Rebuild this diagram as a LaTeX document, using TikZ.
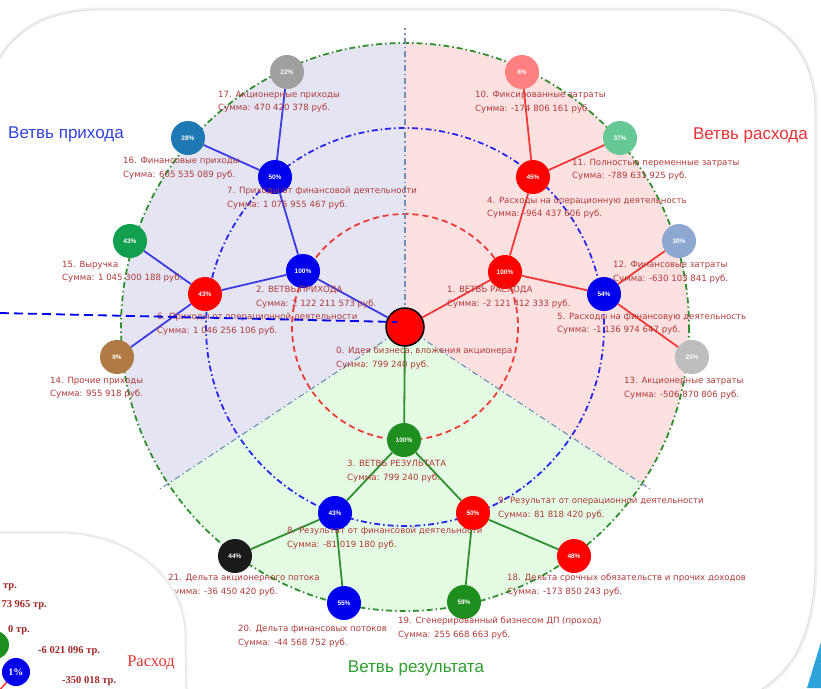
\documentclass[tikz,border=0pt]{standalone}
\usepackage{fontspec}
\setmainfont{Liberation Sans}
\newfontfamily\serifru{Liberation Serif}
\newfontfamily\lblfont{DejaVu Sans}
\definecolor{lav}{HTML}{E4E4F3}
\definecolor{pinkf}{HTML}{FDE1E1}
\definecolor{greenf}{HTML}{E3FAE3}
\definecolor{eblue}{HTML}{3B3BE6}
\definecolor{ered}{HTML}{F03A3A}
\definecolor{egreen}{HTML}{2F8F2F}
\definecolor{lblred}{HTML}{B03A3A}
\definecolor{nblue}{HTML}{0000EE}
\definecolor{nred}{HTML}{FF0000}
\definecolor{ngreen}{HTML}{1E8F1E}
\definecolor{nsalmon}{HTML}{FF8080}
\definecolor{nmint}{HTML}{66C896}
\definecolor{nlsb}{HTML}{8FA8D2}
\definecolor{nlgrey}{HTML}{BDBDBD}
\definecolor{nbrown}{HTML}{B07A45}
\definecolor{ngreen2}{HTML}{12A050}
\definecolor{nsteel}{HTML}{1E78B4}
\definecolor{ngrey}{HTML}{A0A0A0}
\definecolor{nblack}{HTML}{1A1A1A}
\definecolor{axisc}{HTML}{6F8DB5}
\definecolor{tblue}{HTML}{3344DD}
\definecolor{tred}{HTML}{E83333}
\definecolor{tgreen}{HTML}{2E9E2E}
\definecolor{triblue}{HTML}{2EA3DA}
\definecolor{bldark}{HTML}{A02828}
\begin{document}
\begin{tikzpicture}[x=1pt,y=-1pt,
  pn/.style={circle, minimum size=34, inner sep=0, text=white, font=\fontsize{6.5}{7}\selectfont\bfseries},
  lbl/.style={anchor=north west, inner sep=0, align=left, text=lblred, font=\lblfont\fontsize{8.6}{13.5}\selectfont},
  ttl/.style={inner sep=0, font=\fontsize{17}{20}\selectfont},
  eb/.style={draw=eblue, line width=1.8},
  er/.style={draw=ered, line width=1.8},
  eg/.style={draw=egreen, line width=1.8},
  blt/.style={inner sep=0, text=bldark, font=\serifru\bfseries\fontsize{10.5}{12}\selectfont},
  dashdotpat/.style={dash pattern=on 6pt off 3pt on 1.5pt off 3pt}
]
\useasboundingbox (0,0) rectangle (821,688);
\fill[white] (0,0) rectangle (821,688);
% main panel with shadow
\draw[gray!12, line width=5] (-20,700) -- (-20,120) .. controls (-10,45) and (30,10) .. (100,10) -- (715,10) .. controls (775,10) and (815,50) .. (815,110) -- (815,560) .. controls (815,640) and (790,680) .. (740,700);
\draw[fill=white, draw=gray!28, line width=0.8] (-20,700) -- (-20,120) .. controls (-10,45) and (30,10) .. (100,10) -- (715,10) .. controls (775,10) and (815,50) .. (815,110) -- (815,560) .. controls (815,640) and (790,680) .. (740,700) -- cycle;
% sectors
\fill[lav] (405,327) -- plot[domain=146.6:270, samples=90] ({405+284*cos(\x)},{327+284*sin(\x)}) -- cycle;
\fill[pinkf] (405,327) -- plot[domain=-90:33.4, samples=90] ({405+284*cos(\x)},{327+284*sin(\x)}) -- cycle;
\fill[greenf] (405,327) -- plot[domain=33.4:146.6, samples=90] ({405+284*cos(\x)},{327+284*sin(\x)}) -- cycle;
% circles
\draw[egreen, line width=1.8, dashdotpat] (405,327) circle (284);
\draw[nblue!85, line width=1.8, dashdotpat] (405,327) circle (199);
\draw[ered, line width=1.8, dash pattern=on 6pt off 4pt] (405,327) circle (113);
% axes
\coordinate (ctr) at (405,327);
\coordinate (axtop) at (405,28);
\coordinate (axl) at (160,489);
\coordinate (axr) at (650,489);
\draw[axisc, line width=1.1, dashdotpat] (ctr) -- (axtop);
\draw[axisc, line width=1.1, dashdotpat] (ctr) -- (axl);
\draw[axisc, line width=1.1, dashdotpat] (ctr) -- (axr);
% nodes
\node[circle, minimum size=38, inner sep=0, fill=nred, draw=black, line width=1.5] (c0) at (405,327) {};
\node[pn, fill=nred] (n1) at (505,272) {100\%};
\node[pn, fill=nblue] (n2) at (303,271) {100\%};
\node[pn, fill=ngreen] (n3) at (404,440) {100\%};
\node[pn, fill=nred] (n4) at (533,177) {45\%};
\node[pn, fill=nblue] (n5) at (604,294) {54\%};
\node[pn, fill=nred] (n6) at (205,294) {43\%};
\node[pn, fill=nblue] (n7) at (275,177) {50\%};
\node[pn, fill=nblue] (n8) at (335,513) {43\%};
\node[pn, fill=nred] (n9) at (473,513) {50\%};
\node[pn, fill=nsalmon] (n10) at (522,72) {8\%};
\node[pn, fill=nmint] (n11) at (620,138) {37\%};
\node[pn, fill=nlsb] (n12) at (679,241) {30\%};
\node[pn, fill=nlgrey] (n13) at (692,357) {23\%};
\node[pn, fill=nbrown] (n14) at (117,357) {8\%};
\node[pn, fill=ngreen2] (n15) at (130,241) {43\%};
\node[pn, fill=nsteel] (n16) at (188,138) {28\%};
\node[pn, fill=ngrey] (n17) at (287,72) {22\%};
\node[pn, fill=nred] (n18) at (574,556) {48\%};
\node[pn, fill=ngreen] (n19) at (464,602) {59\%};
\node[pn, fill=nblue] (n20) at (344,603) {55\%};
\node[pn, fill=nblack] (n21) at (235,556) {44\%};
% edges
\draw[eb] (c0) -- (n2);
\draw[eb] (n2) -- (n6);
\draw[eb] (n2) -- (n7);
\draw[eb] (n7) -- (n17);
\draw[eb] (n7) -- (n16);
\draw[eb] (n6) -- (n15);
\draw[eb] (n6) -- (n14);
\draw[er] (c0) -- (n1);
\draw[er] (n1) -- (n4);
\draw[er] (n1) -- (n5);
\draw[er] (n4) -- (n10);
\draw[er] (n4) -- (n11);
\draw[er] (n5) -- (n12);
\draw[er] (n5) -- (n13);
\draw[eg] (c0) -- (n3);
\draw[eg] (n3) -- (n8);
\draw[eg] (n3) -- (n9);
\draw[eg] (n8) -- (n21);
\draw[eg] (n8) -- (n20);
\draw[eg] (n9) -- (n19);
\draw[eg] (n9) -- (n18);
% labels
\node[lbl] (l0) at (336,347) {0. Идея бизнеса, вложения акционера\\Сумма: 799 240 руб.};
\node[lbl] (l1) at (447,286) {1. ВЕТВЬ РАСХОДА\\Сумма: -2 121 412 333 руб.};
\node[lbl] (l2) at (256,286) {2. ВЕТВЬ ПРИХОДА\\Сумма: 2 122 211 573 руб.};
\node[lbl] (l3) at (347,460) {3. ВЕТВЬ РЕЗУЛЬТАТА\\Сумма: 799 240 руб.};
\node[lbl] (l4) at (487,197) {4. Расходы на операционную деятельность\\Сумма: -964 437 606 руб.};
\node[lbl] (l5) at (557,313) {5. Расходы на финансовую деятельность\\Сумма: -1 136 974 647 руб.};
\node[lbl] (l6) at (157,313) {6. Приходы от операционной деятельности\\Сумма: 1 046 256 106 руб.};
\node[lbl] (l7) at (227,187) {7. Приходы от финансовой деятельности\\Сумма: 1 075 955 467 руб.};
\node[lbl] (l8) at (287,527) {8. Результат от финансовой деятельности\\Сумма: -81 019 180 руб.};
\node[lbl] (l9) at (498,497) {9. Результат от операционной деятельности\\Сумма: 81 818 420 руб.};
\node[lbl] (l10) at (475,91) {10. Фиксированные затраты\\Сумма: -174 806 161 руб.};
\node[lbl] (l11) at (572,159) {11. Полностью переменные затраты\\Сумма: -789 631 925 руб.};
\node[lbl] (l12) at (613,261) {12. Финансовые затраты\\Сумма: -630 103 841 руб.};
\node[lbl] (l13) at (624,377) {13. Акционерные затраты\\Сумма: -506 870 806 руб.};
\node[lbl] (l14) at (50,377) {14. Прочие приходы\\Сумма: 955 918 руб.};
\node[lbl] (l15) at (62,261) {15. Выручка\\Сумма: 1 045 300 188 руб.};
\node[lbl] (l16) at (123,157) {16. Финансовые приходы\\Сумма: 605 535 089 руб.};
\node[lbl] (l17) at (218,91) {17. Акционерные приходы\\Сумма: 470 420 378 руб.};
\node[lbl] (l18) at (507,574) {18. Дельта срочных обязательств и прочих доходов\\Сумма: -173 850 243 руб.};
\node[lbl] (l19) at (398,617) {19. Сгенерированный бизнесом ДП (проход)\\Сумма: 255 668 663 руб.};
\node[lbl] (l20) at (238,625) {20. Дельта финансовых потоков\\Сумма: -44 568 752 руб.};
\node[lbl] (l21) at (168,574) {21. Дельта акционерного потока\\Сумма: -36 450 420 руб.};
% titles
\node[ttl, text=tblue, anchor=west] (tin) at (8,134) {Ветвь прихода};
\node[ttl, text=tred, anchor=east] (tout) at (808,135) {Ветвь расхода};
\node[ttl, text=tgreen] (tres) at (416,668) {Ветвь результата};
% blue dashed pointer
\coordinate (dsA) at (0,313);
\coordinate (dsB) at (397,322);
\draw[nblue, line width=1.8, dash pattern=on 9pt off 5pt] (dsA) -- (dsB);
% bottom-left overlapping panel
\draw[gray!12, line width=4] (-20,533) -- (60,533) .. controls (125,533) and (185,575) .. (185,635) -- (186,700);
\draw[fill=white, draw=gray!25, line width=0.6] (-20,533) -- (60,533) .. controls (125,533) and (185,575) .. (185,635) -- (186,700) -- (-20,700) -- cycle;
\node[blt, anchor=west] (b1) at (3,587) {тр.};
\node[blt, anchor=east] (b2) at (47,605) {73 965 тр.};
\node[blt, anchor=west] (b3) at (8,630) {0 тр.};
\node[blt, anchor=west] (b4) at (38,651) {-6 021 096 тр.};
\node[inner sep=0, text=tred, font=\serifru\fontsize{16.5}{18}\selectfont] (b5) at (151,663) {Расход};
\node[circle, minimum size=28, inner sep=0, fill=ngreen] (b6) at (-5,645) {};
\coordinate (bx) at (-4,694);
\draw[ered, line width=1.5] (bx) -- (16,672);
\node[circle, minimum size=28, inner sep=0, fill=nblue, text=white, font=\serifru\bfseries\fontsize{10}{11}\selectfont] (b7) at (16,672) {1\%};
\node[blt, anchor=west] (b8) at (62,681) {-350 018 тр.};
% blue corner triangle
\fill[triblue] (807,688) -- (821,642) -- (821,688) -- cycle;
\end{tikzpicture}
\end{document}
